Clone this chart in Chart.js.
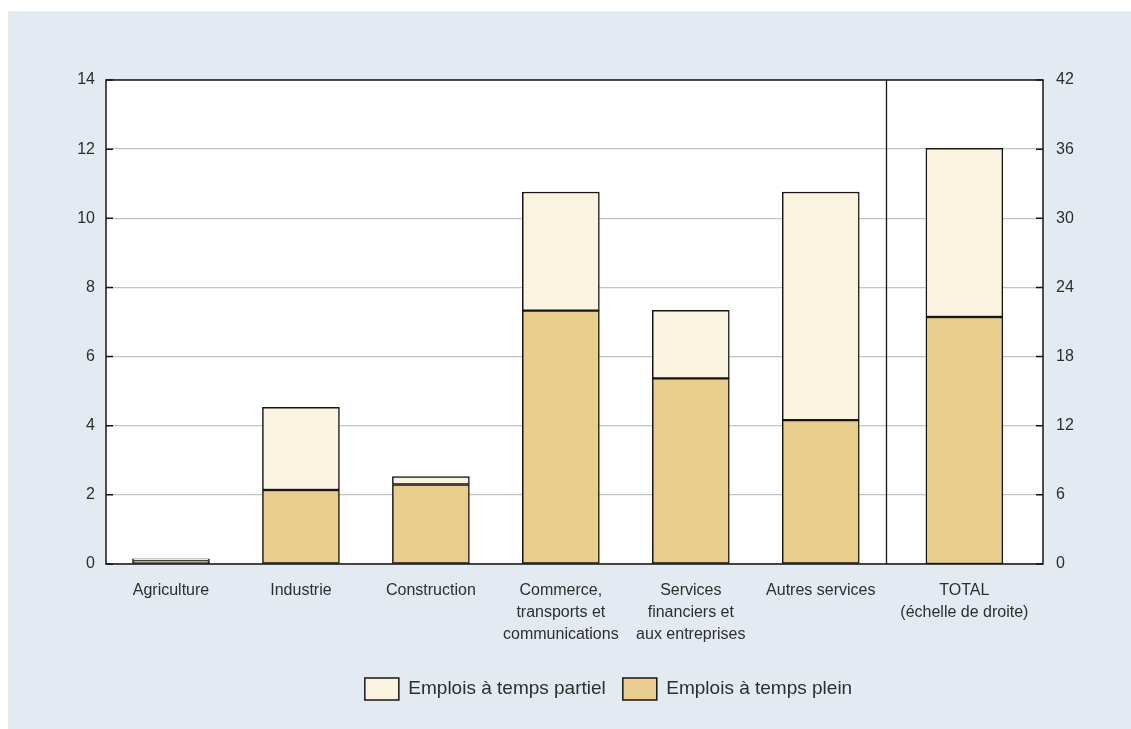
<!DOCTYPE html>
<html lang="fr">
<head>
<meta charset="utf-8">
<title>Emplois par secteur</title>
<script src="https://cdn.jsdelivr.net/npm/chart.js@4/dist/chart.umd.min.js"></script>
<style>
  html, body { margin: 0; padding: 0; background: #ffffff; }
  #panel {
    position: absolute; left: 8px; top: 11px;
    width: 1123px; height: 718px;
    background: #e4eaf1;
  }
  canvas { display: block; }
</style>
</head>
<body>
<div id="panel"><canvas id="emploisChart" width="1123" height="718"></canvas></div>
<script>
// Données (échelle de gauche)
const categories = [
    "Agriculture",
    "Industrie",
    "Construction",
    ["Commerce,", "transports et", "communications"],
    ["Services", "financiers et", "aux entreprises"],
    "Autres services",
];
const totalLabel = ["TOTAL", "(échelle de droite)"];

const pleinTemps = [0.10, 2.14, 2.30, 7.33, 5.37, 4.16];
const partielTemps = [0.05, 2.39, 0.23, 3.43, 1.97, 6.60];

// TOTAL, échelle de droite
const totalPlein = [21.43];
const totalPartiel = [14.64];

const leftTicks = [0, 2, 4, 6, 8, 10, 12, 14];
const rightTicks = [0, 6, 12, 18, 24, 30, 36, 42];

// positions des catégories sur l'axe x
const SPLIT = categories.length - 0.5;
const XMAX = 6.71;
const TOTAL_POS = (SPLIT + XMAX) / 2;

const COL_PLEIN = "#e8cd8d";
const COL_PARTIEL = "#faf3df";
const INK = "#161616";
const TEXT = "#2e2e2e";

const sectorPoints = (arr) => arr.map((v, i) => ({ x: i, y: v }));
const totalPoints = (arr) => arr.map((v, i) => ({ x: i, y: v }));

const framePlugin = {
    id: "frame",
    afterLayout(chart) {
        // légende un peu plus bas et décalée vers la droite
        const lg = chart.legend;
        lg.top += 13;
        lg.bottom += 13;
        lg.left += 39;
        lg.right += 39;
    },
    beforeDraw(chart) {
        const { ctx, chartArea: a } = chart;
        ctx.save();
        ctx.fillStyle = "#ffffff";
        ctx.fillRect(a.left, a.top, a.right - a.left, a.bottom - a.top);
        ctx.restore();
    },
    afterDatasetsDraw(chart) {
        const { ctx, chartArea: a, scales } = chart;
        ctx.save();
        ctx.strokeStyle = INK;
        ctx.lineWidth = 1.5;
        ctx.strokeRect(a.left, a.top, a.right - a.left, a.bottom - a.top);

        // séparateur avant le TOTAL
        const sx = Math.round(scales.x.getPixelForValue(SPLIT)) + 0.5;
        ctx.lineWidth = 1.3;
        ctx.beginPath();
        ctx.moveTo(sx, a.top);
        ctx.lineTo(sx, a.bottom);
        ctx.stroke();

        // petites graduations intérieures
        ctx.lineWidth = 1.5;
        ctx.beginPath();
        scales.y.ticks.forEach((t) => {
            const py = scales.y.getPixelForValue(t.value);
            ctx.moveTo(a.left, py);
            ctx.lineTo(a.left + 7, py);
        });
        scales.y2.ticks.forEach((t) => {
            const py = scales.y2.getPixelForValue(t.value);
            ctx.moveTo(a.right - 7, py);
            ctx.lineTo(a.right, py);
        });
        ctx.stroke();
        ctx.restore();
    },
};

const barStyle = {
    borderColor: INK,
    borderWidth: 1.5,
    borderSkipped: false,
    grouped: false,
    maxBarThickness: 77,
    barPercentage: 1,
    categoryPercentage: 1,
};

new Chart(document.getElementById("emploisChart"), {
    type: "bar",
    data: {
        datasets: [
            {
                label: "Emplois à temps plein",
                data: sectorPoints(pleinTemps),
                backgroundColor: COL_PLEIN,
                xAxisID: "x",
                yAxisID: "y",
                ...barStyle,
            },
            {
                label: "Emplois à temps partiel",
                data: sectorPoints(partielTemps),
                backgroundColor: COL_PARTIEL,
                xAxisID: "x",
                yAxisID: "y",
                ...barStyle,
            },
            {
                label: "total plein",
                data: totalPoints(totalPlein),
                backgroundColor: COL_PLEIN,
                xAxisID: "x2",
                yAxisID: "y2",
                ...barStyle,
            },
            {
                label: "total partiel",
                data: totalPoints(totalPartiel),
                backgroundColor: COL_PARTIEL,
                xAxisID: "x2",
                yAxisID: "y2",
                ...barStyle,
            },
        ],
    },
    options: {
        responsive: false,
        animation: false,
        layout: {
            padding: { left: 0, right: 0, top: 69, bottom: 32 },
        },
        font: { family: "'Liberation Sans', Arial, sans-serif" },
        plugins: {
            tooltip: { enabled: false },
            legend: {
                position: "bottom",
                labels: {
                    filter: (item) => item.datasetIndex < 2,
                    sort: (a, b) => b.datasetIndex - a.datasetIndex,
                    boxWidth: 34,
                    boxHeight: 22,
                    padding: 17,
                    color: TEXT,
                    font: { family: "'Liberation Sans', Arial, sans-serif", size: 19 },
                },
            },
        },
        scales: {
            x: {
                type: "linear",
                stacked: true,
                offset: false,
                min: -0.5,
                max: XMAX,
                grid: { display: false, drawTicks: false },
                border: { display: false },
                afterBuildTicks: (scale) => {
                    scale.ticks = categories
                        .map((c, i) => ({ value: i }))
                        .concat([{ value: TOTAL_POS }]);
                },
                afterFit: (scale) => {
                    scale.height = 84;
                },
                ticks: {
                    autoSkip: false,
                    maxRotation: 0,
                    minRotation: 0,
                    padding: 16,
                    color: TEXT,
                    font: { size: 16, lineHeight: 1.37 },
                    callback: (value, index) =>
                        index < categories.length ? categories[index] : totalLabel,
                },
            },
            x2: {
                type: "linear",
                stacked: true,
                offset: false,
                display: false,
                min: -0.5 - TOTAL_POS,
                max: XMAX - TOTAL_POS,
                afterBuildTicks: (scale) => {
                    scale.ticks = [{ value: 0 }];
                },
            },
            y: {
                position: "left",
                stacked: true,
                min: 0,
                max: 14,
                afterBuildTicks: (scale) => {
                    scale.ticks = leftTicks.map((v) => ({ value: v }));
                },
                afterFit: (scale) => {
                    scale.width = 98;
                },
                grid: { color: "#c4c4c4", lineWidth: 1.3, drawTicks: false },
                border: { display: false },
                ticks: {
                    padding: 11,
                    color: TEXT,
                    font: { size: 16 },
                },
            },
            y2: {
                position: "right",
                stacked: true,
                min: 0,
                max: 42,
                afterBuildTicks: (scale) => {
                    scale.ticks = rightTicks.map((v) => ({ value: v }));
                },
                afterFit: (scale) => {
                    scale.width = 88;
                },
                grid: { display: false, drawTicks: false },
                border: { display: false },
                ticks: {
                    padding: 13,
                    color: TEXT,
                    font: { size: 16 },
                },
            },
        },
    },
    plugins: [framePlugin],
});
</script>
</body>
</html>
